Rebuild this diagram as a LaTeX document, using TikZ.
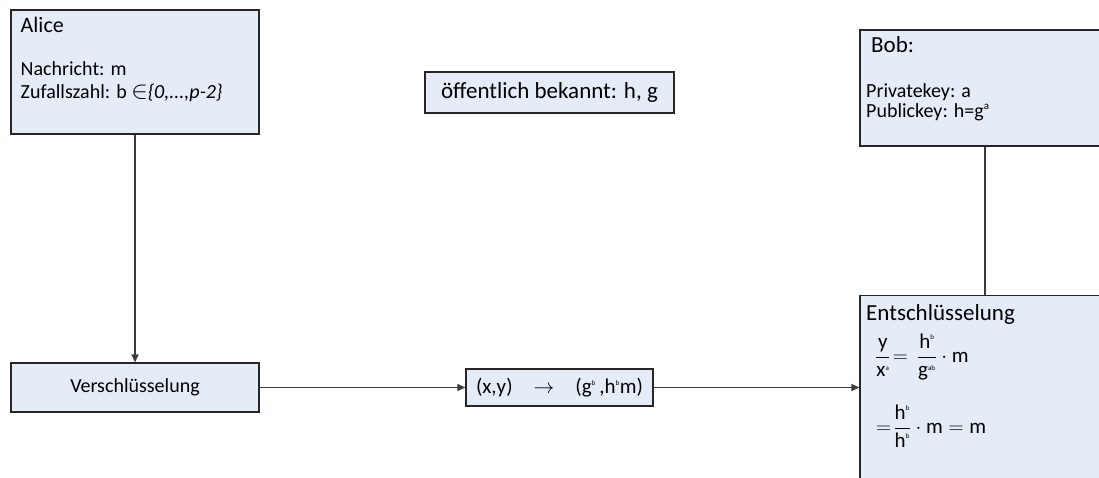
\documentclass[tikz,border=0pt]{standalone}
\usepackage{amsmath}
\usepackage{fontspec}
\setmainfont{Carlito}
\usetikzlibrary{arrows.meta}
\definecolor{boxfill}{RGB}{230,236,247}
\definecolor{linegray}{RGB}{60,60,60}
\newcommand{\fs}[1]{\fontsize{#1}{#1}\selectfont}
\newcommand{\tsup}[1]{\textsuperscript{\fs{7}#1}}
\newcommand{\msup}[1]{^{\text{\fs{7}#1}}}
\tikzset{
    box/.style={draw=black!85, line width=1.2pt, fill=boxfill, inner sep=0pt},
    conn/.style={draw=linegray, line width=1.3pt},
    arr/.style={conn, -{Triangle[length=8pt,width=7pt]}},
    txt/.style={anchor=base west, inner sep=0pt}
}
\begin{document}
\begin{tikzpicture}[x=1pt,y=-1pt]
    \useasboundingbox (0,0) rectangle (1099,477);
    \clip (0,0) rectangle (1099,477);
    \node[box, minimum width=248pt, minimum height=124pt] (alice) at (135,72) {};
    \node[box, minimum width=248pt, minimum height=49pt, font=\fs{20}] (versch) at (135,387.5) {Verschlüsselung};
    \node[box, minimum width=249pt, minimum height=41pt, font=\fs{23}] (public) at (549.5,92.5) {öffentlich bekannt: h, g};
    \node[box, minimum width=187pt, minimum height=37pt, font=\fs{21}] (cipher) at (559.5,387.5)
        {(x,y)\quad$\rightarrow$\quad(g\tsup{b}\,,h\tsup{b}m)};
    \node[box, minimum width=250pt, minimum height=116pt] (bob) at (985,88) {};
    \node[box, minimum width=250pt, minimum height=184pt] (entsch) at (985,387.5) {};
    \node[txt, font=\fs{22}] (alicetitle) at (20.5,32) {Alice};
    \node[txt, font=\fs{20}] (msg) at (20.5,75) {Nachricht: m};
    \node[txt, font=\fs{20}] (rand) at (20.5,98) {Zufallszahl: b \fs{23}$\in$\fs{20}\textit{\{0,...,p-2\}}};
    \node[txt, font=\fs{23}] (bobtitle) at (871,52) {Bob:};
    \node[txt, font=\fs{20}] (privkey) at (866,97) {Privatekey: a};
    \node[txt, font=\fs{20}] (pubkey) at (866,117) {Publickey: h=g\textsuperscript{\fs{11}a}};
    \node[txt, font=\fs{23}] (enttitle) at (866,320) {Entschlüsselung};
    \node[anchor=west, inner sep=0pt, font=\fs{21}] (eqone) at (875,357)
        {$\displaystyle\frac{\text{y}}{\text{x}\msup{a}}\!=\,\frac{\text{h}\msup{b}}{\text{g}\msup{ab}}\cdot\text{m}$};
    \node[anchor=west, inner sep=0pt, font=\fs{21}] (eqtwo) at (876,426)
        {$\displaystyle=\!\frac{\text{h}\msup{b}}{\text{h}\msup{b}}\cdot\text{m}=\text{m}$};
    \draw[arr] (alice) -- (versch);
    \draw[arr] (versch) -- (cipher);
    \draw[arr] (cipher) -- (entsch);
    \draw[conn] (bob) -- (entsch);
\end{tikzpicture}
\end{document}
